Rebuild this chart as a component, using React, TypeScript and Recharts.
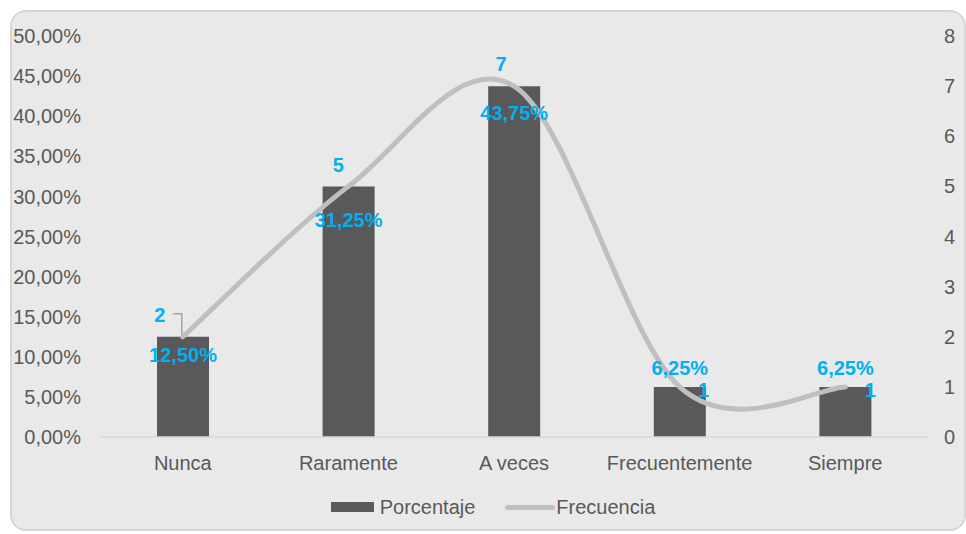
import React from 'react';
import { ComposedChart, Bar, Line, XAxis, YAxis, Legend, LabelList } from 'recharts';

const categories = ['Nunca', 'Raramente', 'A veces', 'Frecuentemente', 'Siempre'];
const porcentaje = [12.5, 31.25, 43.75, 6.25, 6.25];
const frecuencia = [2, 5, 7, 1, 1];
const leftTicks = [0, 5, 10, 15, 20, 25, 30, 35, 40, 45, 50];
const rightTicks = [0, 1, 2, 3, 4, 5, 6, 7, 8];

// label placement offsets (layout only)
const pctLabelDy = [18, 33, 27, -19, -19];
const freqLabelDx = [-23, -10, -13, 24, 25];
const freqLabelDy = [-22, -22, -22, 3, 3];

const data = categories.map((c, i) => ({ name: c, porcentaje: porcentaje[i], frecuencia: frecuencia[i] }));

const FONT = '"Liberation Sans", Arial, sans-serif';
const TEXT = '#595959';
const BLUE = '#00b0f0';
const BAR = '#595959';
const LINE = '#bfbfbf';

// Excel-like smoothed line (Catmull-Rom style Bezier)
function excelCurve(context: any) {
  let pts: number[][] = [];
  return {
    areaStart() {},
    areaEnd() {},
    lineStart() { pts = []; },
    point(x: number, y: number) { pts.push([+x, +y]); },
    lineEnd() {
      if (!pts.length) return;
      context.moveTo(pts[0][0], pts[0][1]);
      for (let i = 0; i < pts.length - 1; i++) {
        const p0 = pts[i - 1] || pts[i];
        const p1 = pts[i];
        const p2 = pts[i + 1];
        const p3 = pts[i + 2] || pts[i + 1];
        context.bezierCurveTo(
          p1[0] + (p2[0] - p0[0]) / 6, p1[1] + (p2[1] - p0[1]) / 6,
          p2[0] - (p3[0] - p1[0]) / 6, p2[1] - (p3[1] - p1[1]) / 6,
          p2[0], p2[1]
        );
      }
    },
  };
}

const fmtPct = (v: number) => v.toFixed(2).replace('.', ',') + '%';

function getBox(props: any) {
  const vb = props.viewBox || {};
  const x = props.x ?? vb.x;
  const y = props.y ?? vb.y;
  const width = props.width ?? vb.width ?? 0;
  return { x: Number(x), y: Number(y), width: Number(width) };
}

const PctLabel = (props: any) => {
  const { x, y, width } = getBox(props);
  const i = props.index;
  return (
    <text x={x + width / 2} y={y + pctLabelDy[i]} dy="0.36em" textAnchor="middle"
      fill={BLUE} fontFamily={FONT} fontWeight="bold" fontSize={20}>
      {fmtPct(Number(props.value))}
    </text>
  );
};

const FreqLabel = (props: any) => {
  const { x, y } = getBox(props);
  const i = props.index;
  const lx = x + freqLabelDx[i];
  const ly = y + freqLabelDy[i];
  return (
    <g>
      {i === 0 && (
        <path d={`M${lx + 13},${ly - 1} H${x - 1} V${y - 2}`} fill="none" stroke="#a6a6a6" strokeWidth={1.5} />
      )}
      <text x={lx} y={ly} dy="0.36em" textAnchor="middle" fill={BLUE} fontFamily={FONT}
        fontWeight="bold" fontSize={20}>
        {props.value}
      </text>
    </g>
  );
};

const LegendContent = (props: any) => {
  const payload = [...(props.payload || [])].sort(
    (a: any, b: any) => (a.dataKey === 'frecuencia' ? 1 : 0) - (b.dataKey === 'frecuencia' ? 1 : 0)
  );
  return (
    <div style={{ display: 'flex', justifyContent: 'center', alignItems: 'center', paddingLeft: 20, fontFamily: FONT, fontSize: 20, color: TEXT }}>
      {payload.map((e: any, i: number) => {
        const isLine = e.dataKey === 'frecuencia';
        return (
          <div key={i} style={{ display: 'flex', alignItems: 'center', marginLeft: i === 0 ? 0 : 30 }}>
            {isLine ? (
              <div style={{ width: 50, height: 5, background: LINE, borderRadius: 3, marginRight: 1 }} />
            ) : (
              <div style={{ width: 43, height: 10, background: BAR, marginRight: 6 }} />
            )}
            <span style={{ lineHeight: '24px' }}>{e.value}</span>
          </div>
        );
      })}
    </div>
  );
};

export default function App() {
  return (
    <div style={{ position: 'absolute', left: 0, top: 0, width: 966, height: 534, background: '#ffffff', overflow: 'hidden' }}>
      <div style={{ position: 'absolute', left: 10, top: 10, width: 952, height: 517, border: '2px solid #d6d6d6', borderRadius: 16, background: '#e9e9e9' }} />
      <div style={{ position: 'absolute', left: 0, top: 0 }}>
        <ComposedChart width={966} height={534} data={data} margin={{ top: 36, right: 0, bottom: 67, left: 0 }}>
          <XAxis dataKey="name" axisLine={{ stroke: '#d9d9d9', strokeWidth: 1.5 }} tickLine={false} tickSize={0} tickMargin={19} height={30}
            tick={{ fill: TEXT, fontSize: 20, fontFamily: FONT }} interval={0} />
          <YAxis yAxisId="left" orientation="left" domain={[0, 50]} ticks={leftTicks} width={100}
            axisLine={false} tickLine={false} tickSize={0} tickMargin={19} interval={0}
            tickFormatter={(v: number) => fmtPct(v)} tick={{ fill: TEXT, fontSize: 20, fontFamily: FONT }} />
          <YAxis yAxisId="right" orientation="right" domain={[0, 8]} ticks={rightTicks} width={38}
            axisLine={false} tickLine={false} tickSize={0} tickMargin={16} interval={0}
            tick={{ fill: TEXT, fontSize: 20, fontFamily: FONT }} />
          <Legend verticalAlign="middle" align="center" layout="horizontal" content={<LegendContent />}
            wrapperStyle={{ top: 495, left: 0, width: 966 }} />
          <Bar yAxisId="left" dataKey="porcentaje" name="Porcentaje" fill={BAR} barSize={52} isAnimationActive={false}>
            <LabelList dataKey="porcentaje" content={<PctLabel />} />
          </Bar>
          <Line yAxisId="right" dataKey="frecuencia" name="Frecuencia" type={excelCurve as any} stroke={LINE}
            strokeWidth={5} strokeLinecap="round" dot={false} activeDot={false} isAnimationActive={false}>
            <LabelList dataKey="frecuencia" content={<FreqLabel />} />
          </Line>
        </ComposedChart>
      </div>
    </div>
  );
}
